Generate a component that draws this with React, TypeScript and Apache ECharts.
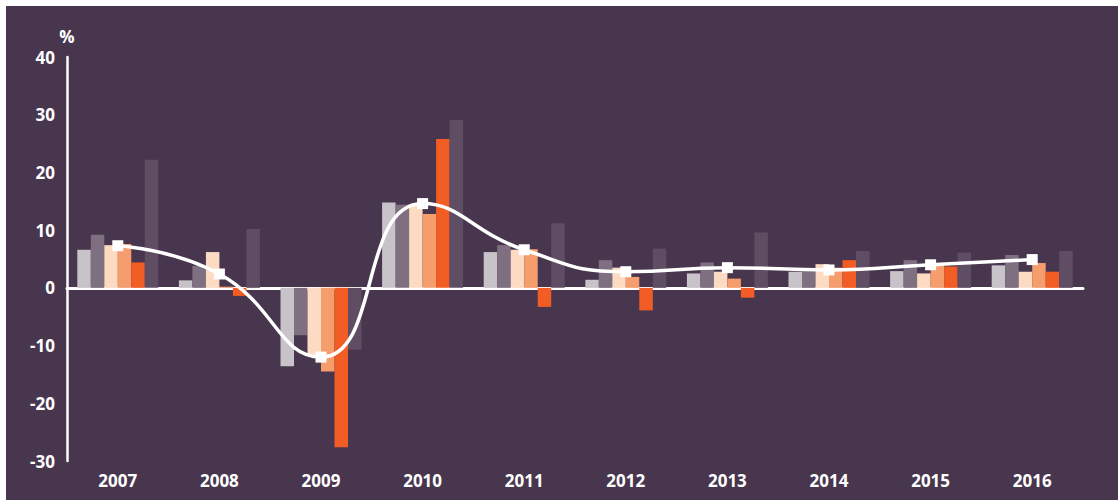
import React, { useEffect, useRef } from "react";
import * as echarts from "echarts";

const years = ["2007", "2008", "2009", "2010", "2011", "2012", "2013", "2014", "2015", "2016"];
const seriesA = [6.6, 1.3, -13.6, 14.8, 6.2, 1.4, 2.5, 2.8, 2.9, 3.9];
const seriesB = [9.2, 3.8, -8.2, 14.4, 7.4, 4.8, 4.4, 2.9, 4.8, 5.7];
const seriesC = [7.4, 6.2, -11.8, 14.4, 6.6, 3.5, 2.8, 4.1, 2.5, 2.8];
const seriesD = [7.6, 0.2, -14.5, 12.8, 6.7, 1.9, 1.6, 3.5, 4.3, 4.3];
const seriesE = [4.4, -1.4, -27.6, 25.8, -3.3, -3.9, -1.7, 4.8, 3.7, 2.8];
const seriesF = [22.2, 10.2, -10.7, 29.1, 11.2, 6.8, 9.6, 6.4, 6.1, 6.4];
const lineValues = [7.3, 2.4, -12.0, 14.6, 6.6, 2.8, 3.5, 3.1, 4.0, 4.9];

const barColors = ["#c8c2c9", "#7e7080", "#fddbc3", "#f69d6d", "#f15d24", "#5f4e63"];
const barData = [seriesA, seriesB, seriesC, seriesD, seriesE, seriesF];

export default function App() {
  const ref = useRef<HTMLDivElement>(null);
  useEffect(() => {
    if (!ref.current) return;
    const chart = echarts.init(ref.current, null, { renderer: "svg" });
    const font = "'Open Sans', sans-serif";
    chart.setOption({
      animation: false,
      backgroundColor: "transparent",
      grid: { left: 67, right: 36, top: 57, bottom: 41, containLabel: false },
      xAxis: [
        {
          type: "category",
          data: years,
          position: "bottom",
          axisLine: { show: false, onZero: false },
          axisTick: { show: false },
          axisLabel: { color: "#ffffff", fontFamily: font, fontWeight: "bold", fontSize: 17, margin: 11 },
        },
        {
          type: "category",
          data: years,
          position: "bottom",
          axisLine: { show: true, onZero: true, lineStyle: { color: "#ffffff", width: 3 } },
          axisTick: { show: false },
          axisLabel: { show: false },
        },
      ],
      yAxis: {
        type: "value",
        min: -30,
        max: 40,
        interval: 10,
        name: "%",
        nameLocation: "end",
        nameGap: 12,
        nameTextStyle: { color: "#ffffff", fontFamily: font, fontWeight: "bold", fontSize: 17, align: "center" },
        axisLine: { show: true, lineStyle: { color: "#ffffff", width: 2.5 } },
        axisTick: { show: false },
        splitLine: { show: false },
        axisLabel: { color: "#ffffff", fontFamily: font, fontWeight: "bold", fontSize: 17, margin: 12 },
      },
      series: [
        ...barData.map((d, i) => ({
          type: "bar",
          xAxisIndex: 0,
          data: d,
          barWidth: 13.5,
          barGap: "0%",
          itemStyle: { color: barColors[i] },
          z: 2,
        })),
        {
          type: "line",
          xAxisIndex: 0,
          data: lineValues,
          smooth: 0.5,
          symbol: "rect",
          symbolSize: 11,
          lineStyle: { color: "#ffffff", width: 3.5 },
          itemStyle: { color: "#ffffff" },
          z: 5,
        },
      ],
    });
    return () => chart.dispose();
  }, []);
  return (
    <div style={{ position: "fixed", left: 0, top: 0, width: 1119, height: 502, background: "#ffffff" }}>
      <div style={{ position: "absolute", left: 6, top: 6, width: 1112, height: 494, background: "#48364e" }} />
      <div ref={ref} style={{ position: "absolute", left: 0, top: 0, width: 1119, height: 502 }} />
    </div>
  );
}
